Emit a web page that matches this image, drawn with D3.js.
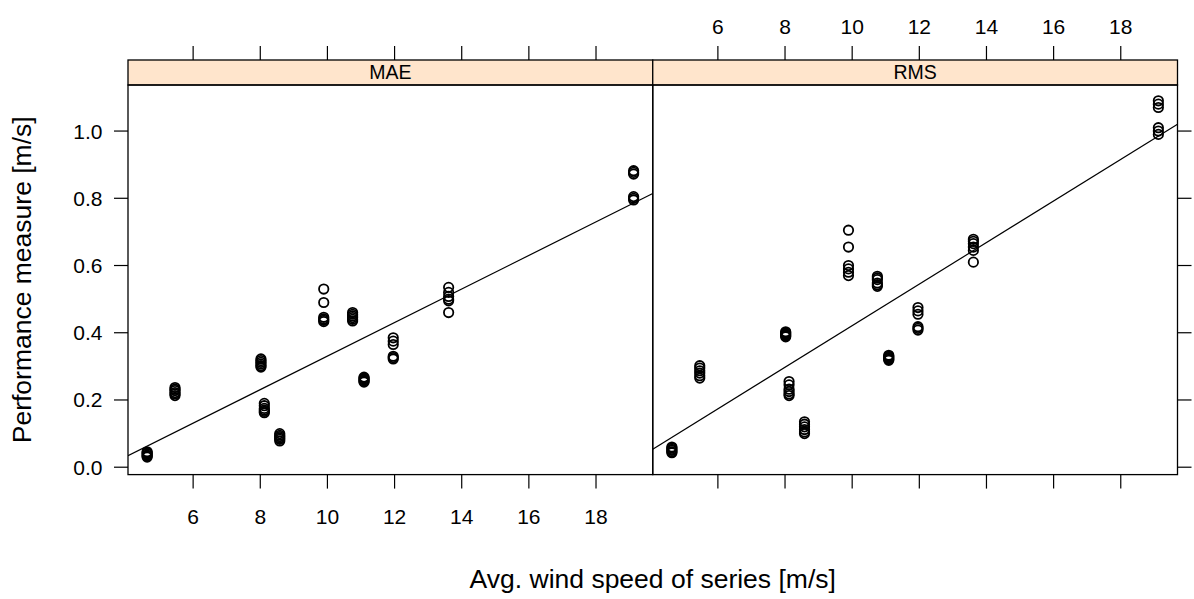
<!DOCTYPE html>
<html>
<head>
<meta charset="utf-8">
<script src="https://cdn.jsdelivr.net/npm/d3@7"></script>
<style>
  body { margin: 0; background: #fff; }
  svg { font-family: "Liberation Sans", Arial, sans-serif; }
</style>
</head>
<body>
<div class="canvas"></div>
<script>
// data: one row of values per series (avg. wind speed), one value per method
const panels = ["MAE", "RMS"];
const speeds = [4.63, 5.46, 8.02, 8.12, 8.58, 9.89, 10.75, 11.09, 11.96, 13.61, 19.12];
const maeValues = [
  [0.03, 0.033, 0.036, 0.04, 0.043, 0.046],
  [0.213, 0.218, 0.222, 0.228, 0.232, 0.237],
  [0.298, 0.302, 0.307, 0.312, 0.317, 0.322],
  [0.162, 0.166, 0.17, 0.175, 0.183, 0.19],
  [0.078, 0.083, 0.087, 0.091, 0.095, 0.1],
  [0.433, 0.437, 0.441, 0.446, 0.49, 0.53],
  [0.435, 0.44, 0.445, 0.45, 0.455, 0.46],
  [0.253, 0.256, 0.259, 0.262, 0.265, 0.268],
  [0.322, 0.326, 0.33, 0.365, 0.375, 0.385],
  [0.46, 0.495, 0.5, 0.508, 0.52, 0.535],
  [0.795, 0.8, 0.805, 0.872, 0.877, 0.882]
];
const rmsValues = [
  [0.043, 0.046, 0.05, 0.053, 0.057, 0.06],
  [0.265, 0.272, 0.28, 0.287, 0.295, 0.302],
  [0.388, 0.391, 0.394, 0.397, 0.4, 0.403],
  [0.213, 0.218, 0.225, 0.232, 0.245, 0.255],
  [0.1, 0.105, 0.112, 0.12, 0.128, 0.135],
  [0.57, 0.58, 0.59, 0.6, 0.655, 0.705],
  [0.538, 0.543, 0.548, 0.558, 0.563, 0.568],
  [0.318, 0.321, 0.324, 0.327, 0.33, 0.333],
  [0.408, 0.413, 0.418, 0.455, 0.465, 0.475],
  [0.61, 0.645, 0.655, 0.665, 0.672, 0.678],
  [0.99, 1.0, 1.01, 1.07, 1.08, 1.09]
];
const xTicks = [6, 8, 10, 12, 14, 16, 18];
const yTicks = [0, 0.2, 0.4, 0.6, 0.8, 1.0];

const width = 1194, height = 599;
const pLeft = 128, pRight = 1177.5, pTop = 85, pBottom = 474.6, stripH = 25;
const panelW = (pRight - pLeft) / 2;
const tickLen = 14;

const svg = d3.select(".canvas").append("svg")
  .attr("width", width).attr("height", height);

const x = d3.scaleLinear().domain([4.06, 19.69]).range([0, panelW]);
const y = d3.scaleLinear().domain([-0.022, 1.137]).range([pBottom, pTop]);

const flatten = (vals) => speeds.flatMap((s, i) => vals[i].map(v => ({ x: s, y: v })));
const panelData = [flatten(maeValues), flatten(rmsValues)];

// least squares fit
const lmFit = (pts) => {
  const mx = d3.mean(pts, d => d.x), my = d3.mean(pts, d => d.y);
  const b = d3.sum(pts, d => (d.x - mx) * (d.y - my)) / d3.sum(pts, d => (d.x - mx) ** 2);
  return { a: my - b * mx, b };
};

panels.forEach((name, p) => {
  const g = svg.append("g").attr("transform", `translate(${pLeft + p * panelW},0)`);
  const pts = panelData[p];

  // clip for the fitted line
  g.append("clipPath").attr("id", "clip" + p)
    .append("rect").attr("x", 0).attr("y", pTop).attr("width", panelW).attr("height", pBottom - pTop);

  const fit = lmFit(pts);
  const [x0, x1] = x.domain();
  g.append("line")
    .attr("clip-path", `url(#clip${p})`)
    .attr("x1", x(x0)).attr("y1", y(fit.a + fit.b * x0))
    .attr("x2", x(x1)).attr("y2", y(fit.a + fit.b * x1))
    .attr("stroke", "#000").attr("stroke-width", 1.2);

  g.selectAll("circle").data(pts).enter().append("circle")
    .attr("cx", d => x(d.x)).attr("cy", d => y(d.y))
    .attr("r", 4.7)
    .attr("fill", "none").attr("stroke", "#000").attr("stroke-width", 1.8);

  // strip
  g.append("rect").attr("x", 0).attr("y", pTop - stripH).attr("width", panelW).attr("height", stripH)
    .attr("fill", "#ffe5cc").attr("stroke", "#000").attr("stroke-width", 1.3);
  g.append("text").attr("x", panelW / 2).attr("y", 79)
    .attr("text-anchor", "middle").attr("font-size", 19.5).text(name);

  // panel border
  g.append("rect").attr("x", 0).attr("y", pTop).attr("width", panelW).attr("height", pBottom - pTop)
    .attr("fill", "none").attr("stroke", "#000").attr("stroke-width", 1.3);

  // x ticks top and bottom
  const tk = g.append("g").attr("stroke", "#000").attr("stroke-width", 1.2);
  xTicks.forEach(t => {
    tk.append("line").attr("x1", x(t)).attr("x2", x(t)).attr("y1", pBottom).attr("y2", pBottom + tickLen);
    tk.append("line").attr("x1", x(t)).attr("x2", x(t)).attr("y1", pTop - stripH).attr("y2", pTop - stripH - tickLen);
  });
  const labelY = p === 0 ? 524 : 34;
  g.selectAll(".xl").data(xTicks).enter().append("text")
    .attr("x", d => x(d)).attr("y", labelY)
    .attr("text-anchor", "middle").attr("font-size", 21).text(d => d);
});

// y axis: labels left, ticks both sides
const yt = svg.append("g").attr("stroke", "#000").attr("stroke-width", 1.2);
yTicks.forEach(t => {
  yt.append("line").attr("x1", pLeft - tickLen).attr("x2", pLeft).attr("y1", y(t)).attr("y2", y(t));
  yt.append("line").attr("x1", pRight).attr("x2", pRight + tickLen).attr("y1", y(t)).attr("y2", y(t));
});
svg.selectAll(".yl").data(yTicks).enter().append("text")
  .attr("x", 102.5).attr("y", d => y(d) + 7.5)
  .attr("text-anchor", "end").attr("font-size", 21).text(d => d3.format(".1f")(d));

// axis titles
svg.append("text").attr("x", (pLeft + pRight) / 2).attr("y", 588)
  .attr("text-anchor", "middle").attr("font-size", 26.5).text("Avg. wind speed of series [m/s]");
svg.append("text").attr("transform", `translate(31,${(pTop + pBottom) / 2}) rotate(-90)`)
  .attr("text-anchor", "middle").attr("font-size", 26.5).text("Performance measure [m/s]");
</script>
</body>
</html>
